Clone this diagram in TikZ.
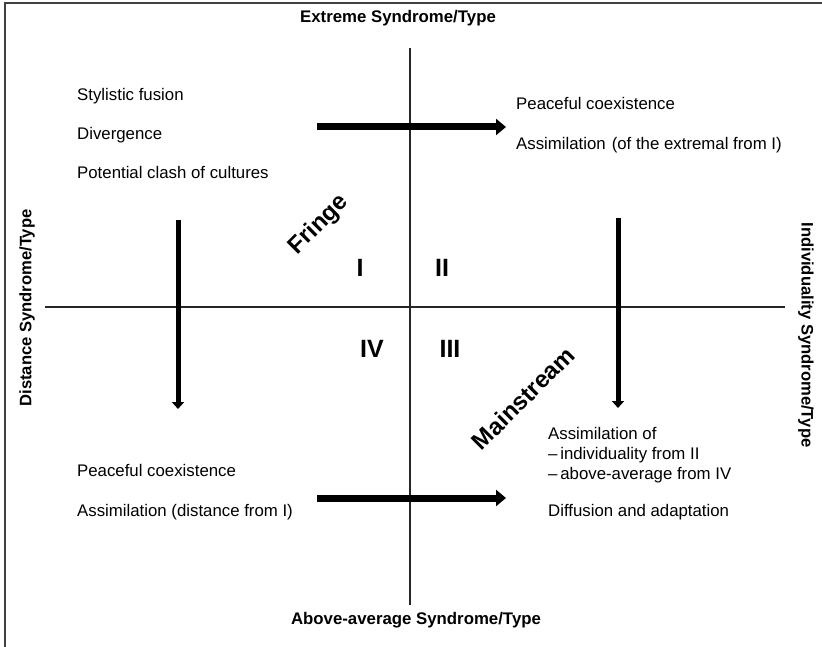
\documentclass[tikz,border=0pt]{standalone}
\usepackage{fontspec}
\setmainfont{Liberation Sans}
\usetikzlibrary{arrows.meta}

\tikzset{
  body/.style={anchor=base west, inner sep=0pt, font=\fontsize{16.8}{19}\selectfont},
  axislabel/.style={inner sep=0pt, font=\bfseries\fontsize{16.8}{19}\selectfont},
  sidelabel/.style={inner sep=0pt, font=\bfseries\fontsize{16.6}{19}\selectfont},
  quadrant/.style={inner sep=0pt, font=\bfseries\fontsize{25}{27}\selectfont},
  zone/.style={inner sep=0pt, rotate=45, font=\bfseries\fontsize{24}{26}\selectfont},
  axis/.style={line width=1.4pt, black!85},
  flowh/.style={line width=7pt, -{Triangle[length=10pt,width=16pt]}},
  flowv/.style={line width=5pt, -{Triangle[length=7pt,width=12pt]}},
}

\begin{document}
\begin{tikzpicture}[x=1pt,y=-1pt]
  \useasboundingbox (0,0) rectangle (822,647);

  % frame (top and left edges)
  \draw[line width=2pt, black!75] (5,647) -- (5,3) -- (822,3);

  % axes
  \coordinate (ytop) at (410,48);
  \coordinate (ybot) at (410,605);
  \coordinate (xleft) at (45,307);
  \coordinate (xright) at (785,307);
  \draw[axis] (ytop) -- (ybot);
  \draw[axis] (xleft) -- (xright);

  % axis labels
  \node[axislabel] (lt) at (398,18) {Extreme Syndrome/Type};
  \node[axislabel] (lb) at (416,620) {Above-average Syndrome/Type};
  \node[sidelabel, rotate=90] (ll) at (27,308) {Distance Syndrome/Type};
  \node[sidelabel, rotate=-90] (lr) at (806,335) {Individuality Syndrome/Type};

  % quadrant numerals
  \node[quadrant] (q1) at (360,268) {I};
  \node[quadrant] (q2) at (442,268) {II};
  \node[quadrant] (q4) at (372,349) {IV};
  \node[quadrant] (q3) at (450,349) {III};

  % zone labels
  \node[zone] (fringe) at (319,225) {Fringe};
  \node[zone] (mainstream) at (523,398) {Mainstream};

  % upper left texts
  \node[body] (t1) at (77,101) {Stylistic fusion};
  \node[body] (t2) at (77,140) {Divergence};
  \node[body] (t3) at (77,179) {Potential clash of cultures};

  % upper right texts
  \node[body] (t4) at (516,110) {Peaceful coexistence};
  \node[body] (t5) at (516,150) {Assimilation\hspace{6pt}(of the extremal from I)};

  % lower left texts
  \node[body] (t6) at (77,476) {Peaceful coexistence};
  \node[body] (t7) at (77,516) {Assimilation (distance from I)};

  % lower right texts
  \node[body] (t8) at (548,439) {Assimilation of};
  \node[body] (t9) at (548,459) {\textendash\,individuality from II};
  \node[body] (t10) at (548,479) {\textendash\,above-average from IV};
  \node[body] (t11) at (548,516) {Diffusion and adaptation};

  % flow arrows
  \coordinate (a1s) at (317,127);
  \coordinate (a1e) at (506,127);
  \coordinate (a2s) at (317,498);
  \coordinate (a2e) at (506,498);
  \coordinate (a3s) at (178,220);
  \coordinate (a3e) at (178,409);
  \coordinate (a4s) at (618,218);
  \coordinate (a4e) at (618,408);
  \draw[flowh] (a1s) -- (a1e);
  \draw[flowh] (a2s) -- (a2e);
  \draw[flowv] (a3s) -- (a3e);
  \draw[flowv] (a4s) -- (a4e);
\end{tikzpicture}
\end{document}
